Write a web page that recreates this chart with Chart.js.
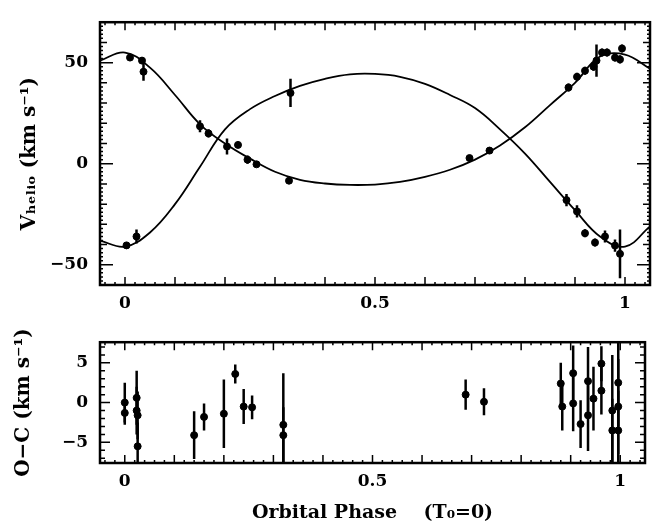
<!DOCTYPE html>
<html><head><meta charset="utf-8">
<script src="https://cdn.jsdelivr.net/npm/chart.js@4/dist/chart.umd.min.js"></script>
<style>
html,body{margin:0;padding:0;background:#fff;}
#wrap{position:relative;width:660px;height:529px;background:#fff;}
#top{position:absolute;left:0;top:0;}
#bot{position:absolute;left:0;top:320px;}
</style></head><body>
<div id="wrap"><canvas id="top" width="660" height="320"></canvas><canvas id="bot" width="660" height="209"></canvas></div>
<script>
// ---- fitted orbit curves ----
const curvePhase = [-0.05,0,0.05,0.1,0.15,0.2,0.25,0.3,0.35,0.4,0.45,0.5,0.55,0.6,0.65,0.7,0.75,0.8,0.85,0.9,0.95,1.0,1.05];
const curvePrimary = [51,55,47.5,34,19.5,10,2.5,-4,-8,-9.8,-10.5,-10.3,-9,-6.5,-3,2,9,18,29,40,53,54,47];
const curveSecondary = [-38,-41,-34,-20,-1.5,17,27,33.5,38.5,42,44.2,44.4,43,39.5,34,27.5,17,5,-9,-23,-36,-41,-31];

// ---- measured velocities: phase, velocity, error ----
const primPhase = [0.01,0.034,0.037,0.15,0.167,0.204,0.226,0.245,0.263,0.328,0.689,0.729,0.887,0.904,0.92,0.937,0.943,0.954,0.964,0.98,0.99,0.994];
const primVel   = [52.5,51,45.5,18.5,15,8.5,9.3,2,-0.3,-8.4,2.8,6.5,37.7,43,46,48,51,55,55,52.5,51.6,57];
const primErr   = [1.5,1.5,4.5,3,2,4,1.5,2,1,1.5,1.5,1.5,2,2,2,2,8,2,2,2,2,2];

const secPhase = [0.003,0.023,0.331,0.883,0.904,0.92,0.94,0.96,0.98,0.99];
const secVel   = [-40.4,-36,35,-18,-23.6,-34.4,-39,-36,-40.5,-44.6];
const secErr   = [1.5,3.5,7,3,3,2,2,3,3,12];

// ---- residuals O-C ----
const ocPhase = [0.0,0.0,0.024,0.024,0.026,0.026,0.14,0.16,0.2,0.223,0.24,0.257,0.32,0.32,0.688,0.725,0.88,0.883,0.905,0.905,0.92,0.935,0.935,0.946,0.962,0.962,0.984,0.984,0.996,0.996,0.996];
const ocVal   = [0,-1.3,0.6,-1,-1.6,-5.5,-4.1,-1.8,-1.4,3.6,-0.5,-0.6,-2.8,-4.1,1.0,0.1,2.4,-0.5,3.7,-0.1,-2.7,2.7,-1.6,0.5,4.9,1.5,-1,-3.5,2.5,-0.5,-3.5];
const ocErr   = [2.5,1.5,3.4,3,3,3,3,1.7,4.3,1.2,2.2,1.5,6.5,3.5,1.9,1.7,2.6,3,3.5,3.5,3,4.3,4.5,4,2.2,3,7,4,5.5,6,5];

// ---- tick labels ----
const phaseTicks = [0,0.5,1];
const velTicks = [-50,0,50];
const ocTicks = [-5,0,5];

const FONT = "'DejaVu Serif', 'Liberation Serif', serif";
const pts = (xs, ys, es) => xs.map((x,i)=>({x:x, y:ys[i], e:es ? es[i] : 0}));

const framePlugin = {
  id: 'frame',
  beforeDatasetsDraw(chart){
    const ctx = chart.ctx, ys = chart.scales.y, a = chart.chartArea;
    ctx.save();
    ctx.beginPath(); ctx.rect(a.left, a.top, a.right-a.left, a.bottom-a.top); ctx.clip();
    ctx.strokeStyle = '#000'; ctx.lineWidth = 2.5;
    chart.data.datasets.forEach((ds, di)=>{
      if (!ds.errorBars) return;
      const meta = chart.getDatasetMeta(di);
      ds.data.forEach((p, j)=>{
        if (!p.e) return;
        const el = meta.data[j];
        ctx.beginPath();
        ctx.moveTo(el.x, ys.getPixelForValue(p.y - p.e));
        ctx.lineTo(el.x, ys.getPixelForValue(p.y + p.e));
        ctx.stroke();
      });
    });
    ctx.restore();
  },
  afterDraw(chart, args, o){
    const ctx = chart.ctx, a = chart.chartArea, xs = chart.scales.x, ys = chart.scales.y;
    ctx.save();
    ctx.strokeStyle = '#000'; ctx.lineWidth = 1.5;
    const tickLen = (v, levels) => {
      for (const [step, len] of levels) {
        const r = v/step; if (Math.abs(r - Math.round(r)) < 1e-6) return len;
      }
      return 0;
    };
    const xmin = o.xLevels[o.xLevels.length-1][0];
    for (let k = Math.ceil(xs.min/xmin - 1e-9); k*xmin <= xs.max + 1e-9; k++) {
      const v = k*xmin, L = tickLen(v, o.xLevels), px = xs.getPixelForValue(v);
      ctx.beginPath();
      ctx.moveTo(px, a.bottom); ctx.lineTo(px, a.bottom - L);
      ctx.moveTo(px, a.top); ctx.lineTo(px, a.top + L);
      ctx.stroke();
    }
    const ymin = o.yLevels[o.yLevels.length-1][0];
    for (let k = Math.ceil(ys.min/ymin - 1e-9); k*ymin <= ys.max + 1e-9; k++) {
      const v = k*ymin, L = tickLen(v, o.yLevels), py = ys.getPixelForValue(v);
      ctx.beginPath();
      ctx.moveTo(a.left, py); ctx.lineTo(a.left + L, py);
      ctx.moveTo(a.right, py); ctx.lineTo(a.right - L, py);
      ctx.stroke();
    }
    ctx.lineWidth = 2.5;
    ctx.strokeRect(a.left, a.top, a.right - a.left, a.bottom - a.top);
    ctx.restore();
  }
};

function fmt(v){ return v < 0 ? '\u2212' + Math.abs(v) : String(v); }

function makeScales(yMin, yMax, yTickVals, yTitle, yTitlePad, xTitle, xHeight){
  return {
    x: {
      type: 'linear', min: -0.05, max: 1.05,
      grid: {display: false, drawTicks: false}, border: {display: false},
      afterBuildTicks: s => { s.ticks = phaseTicks.map(v=>({value:v})); },
      afterFit: s => { s.height = xHeight; },
      ticks: {padding: 8, color: '#000', font: {family: FONT, size: 17, weight: 'bold'}, callback: v => fmt(v), maxRotation: 0},
      title: xTitle ? {display: true, text: xTitle, color: '#000', padding: {top: 0, bottom: 5}, font: {family: FONT, size: 19, weight: 'bold'}} : {display: false}
    },
    y: {
      type: 'linear', min: yMin, max: yMax,
      grid: {display: false, drawTicks: false}, border: {display: false},
      afterBuildTicks: s => { s.ticks = yTickVals.map(v=>({value:v})); },
      afterFit: s => { s.width = 100; },
      ticks: {padding: 12, color: '#000', font: {family: FONT, size: 17, weight: 'bold'}, callback: v => fmt(v)},
      title: {display: true, text: yTitle, color: '#000', padding: {top: yTitlePad, bottom: 0}, font: {family: FONT, size: 20, weight: 'bold'}}
    }
  };
}

Chart.defaults.animation = false;

const lineStyle = {showLine: true, borderColor: '#000', borderWidth: 1.8, pointRadius: 0, tension: 0.4, fill: false};

new Chart(document.getElementById('top'), {
  type: 'scatter',
  data: { datasets: [
    Object.assign({data: pts(curvePhase, curvePrimary)}, lineStyle),
    Object.assign({data: pts(curvePhase, curveSecondary)}, lineStyle),
    {data: pts(primPhase, primVel, primErr), errorBars: true, pointRadius: 3.5, backgroundColor: '#000', borderColor: '#000'},
    {data: pts(secPhase, secVel, secErr), errorBars: true, pointRadius: 3.5, backgroundColor: '#000', borderColor: '#000'}
  ]},
  options: {
    responsive: false, devicePixelRatio: 1,
    layout: {padding: {top: 7, right: 10, left: 0, bottom: 0}},
    plugins: {legend: {display: false}, tooltip: {enabled: false},
      frame: {xLevels: [[0.1, 8], [0.02, 3]], yLevels: [[50, 13], [10, 7], [2, 3]]}},
    scales: makeScales(-60, 70, velTicks, 'V\u2095\u2091\u2097\u1D62\u2092 (km s\u207B\u00B9)', 18, null, 35)
  },
  plugins: [framePlugin]
});

new Chart(document.getElementById('bot'), {
  type: 'scatter',
  data: { datasets: [
    {data: pts(ocPhase, ocVal, ocErr), errorBars: true, pointRadius: 3.5, backgroundColor: '#000', borderColor: '#000'}
  ]},
  options: {
    responsive: false, devicePixelRatio: 1,
    layout: {padding: {top: 9, right: 15, left: 0, bottom: 0}},
    plugins: {legend: {display: false}, tooltip: {enabled: false},
      frame: {xLevels: [[0.1, 8], [0.02, 3]], yLevels: [[5, 10], [1, 5]]}},
    scales: makeScales(-7.6, 7.6, ocTicks, 'O\u2212C (km s\u207B\u00B9)', 12, 'Orbital Phase    (T\u2080=0)', 66)
  },
  plugins: [framePlugin]
});
</script>
</body></html>
